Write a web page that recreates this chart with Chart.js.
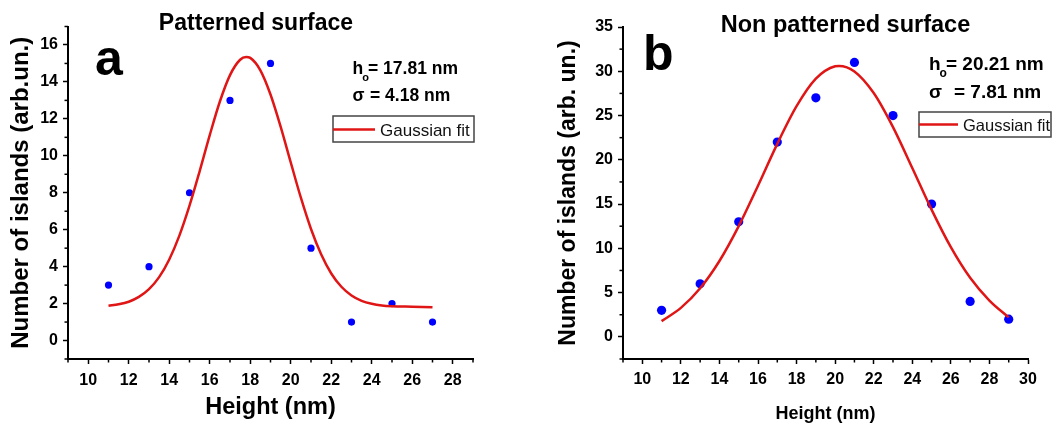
<!DOCTYPE html>
<html><head><meta charset="utf-8">
<script src="https://cdn.jsdelivr.net/npm/chart.js@4.4.1/dist/chart.umd.min.js"></script>
<style>
html,body{margin:0;padding:0;background:#fff;}
#wrap{position:relative;width:1055px;height:423px;overflow:hidden;background:#fff;}
.box{position:absolute;top:0;height:423px;}
#bl{left:0;width:527px;}
#br{left:527px;width:528px;}
</style></head><body>
<div id="wrap"><div class="box" id="bl"><canvas id="cl"></canvas></div><div class="box" id="br"><canvas id="cr"></canvas></div></div>
<script>
// ---- Panel a: patterned surface ----
const leftHeights = [11, 13, 15, 17, 19, 21, 23, 25, 27];
const leftCounts  = [3, 4, 8, 13, 15, 5, 1, 2, 1];
const leftFitX = [11, 11.5, 12, 12.5, 13, 13.5, 14, 14.5, 15, 15.5, 16, 16.5, 17, 17.5, 17.8, 18, 18.5, 19, 19.5, 20, 20.5, 21, 21.5, 22, 22.5, 23, 23.5, 24, 24.5, 25, 26, 27];
const leftFitY = [1.88, 1.96, 2.10, 2.36, 2.78, 3.43, 4.39, 5.68, 7.30, 9.16, 11.12, 12.94, 14.37, 15.20, 15.35, 15.30, 14.63, 13.32, 11.58, 9.64, 7.73, 6.04, 4.67, 3.63, 2.91, 2.44, 2.15, 1.99, 1.90, 1.86, 1.83, 1.80];
const leftXTickLabels = [10, 12, 14, 16, 18, 20, 22, 24, 26, 28];
const leftYTickLabels = [0, 2, 4, 6, 8, 10, 12, 14, 16];

// ---- Panel b: non patterned surface ----
const rightHeights = [11, 13, 15, 17, 19, 21, 23, 25, 27, 29];
const rightCounts  = [3, 6, 13, 22, 27, 31, 25, 15, 4, 2];
const rightFitX = [11, 12, 13, 14, 15, 16, 17, 18, 19, 20, 20.2, 21, 22, 23, 24, 25, 26, 27, 28, 29];
const rightFitY = [1.78, 3.27, 5.49, 8.57, 12.51, 17.07, 21.80, 26.05, 29.16, 30.56, 30.6, 29.98, 27.54, 23.69, 19.07, 14.37, 10.13, 6.67, 4.10, 2.20];
const rightXTickLabels = [10, 12, 14, 16, 18, 20, 22, 24, 26, 28, 30];
const rightYTickLabels = [0, 5, 10, 15, 20, 25, 30, 35];

const FONT = "'Liberation Sans', Arial, sans-serif";
Chart.defaults.font.family = FONT;
Chart.defaults.color = '#000';

function has(list, v){ return list.some(a => Math.abs(a - v) < 1e-6); }

const minorTicks = {
  id: 'minorTicks',
  afterDraw(chart, args, opts){
    const ctx = chart.ctx, xs = chart.scales.x, ys = chart.scales.y;
    ctx.save(); ctx.strokeStyle = '#000'; ctx.lineWidth = 1.5;
    xs.ticks.forEach((t, i) => {
      if (!has(opts.xMajor, t.value)) {
        const px = xs.getPixelForTick(i);
        ctx.beginPath(); ctx.moveTo(px, xs.top); ctx.lineTo(px, xs.top + 3.5); ctx.stroke();
      }
    });
    ys.ticks.forEach((t, i) => {
      if (!has(opts.yMajor, t.value)) {
        const py = ys.getPixelForTick(i);
        ctx.beginPath(); ctx.moveTo(ys.right, py); ctx.lineTo(ys.right - 3.5, py); ctx.stroke();
      }
    });
    ctx.restore();
  }
};

const deco = {
  id: 'deco',
  afterDraw(chart, args, o){
    const ctx = chart.ctx;
    ctx.save();
    ctx.fillStyle = '#000';
    ctx.textBaseline = 'alphabetic';
    // title
    ctx.font = `bold ${o.title.size}px ${FONT}`;
    ctx.textAlign = 'center';
    ctx.fillText(o.title.text, o.title.x, o.title.y);
    // panel letter
    ctx.textAlign = 'left';
    ctx.font = `bold ${o.letter.size}px ${FONT}`;
    ctx.fillText(o.letter.text, o.letter.x, o.letter.y);
    // h_o line
    ctx.font = `bold ${o.ann.size}px ${FONT}`;
    ctx.fillText('h', o.ann.x, o.ann.y1);
    const hw = ctx.measureText('h').width;
    ctx.font = `bold ${Math.round(o.ann.size*0.62)}px ${FONT}`;
    ctx.fillText('o', o.ann.x + hw - 1, o.ann.y1 + 7);
    ctx.font = `bold ${o.ann.size}px ${FONT}`;
    ctx.fillText('= ' + o.ann.h0, o.ann.eq1, o.ann.y1);
    // sigma line
    ctx.fillText('\u03C3', o.ann.x, o.ann.y2);
    ctx.fillText('= ' + o.ann.sigma, o.ann.eq2, o.ann.y2);
    // legend box
    const L = o.legend;
    ctx.strokeStyle = '#444'; ctx.lineWidth = 1.5;
    ctx.strokeRect(L.x0, L.y0, L.x1 - L.x0, L.y1 - L.y0);
    const ds = chart.data.datasets[0];
    ctx.strokeStyle = ds.borderColor; ctx.lineWidth = 2.5;
    ctx.beginPath(); ctx.moveTo(L.x0, L.ly); ctx.lineTo(L.lx1, L.ly); ctx.stroke();
    ctx.font = `${L.size}px ${FONT}`;
    ctx.fillStyle = '#111';
    ctx.fillText(ds.label, L.tx, L.ty);
    ctx.restore();
  }
};

function makeChart(id, c){
  const fitData = c.fitX.map((x, i) => ({x: x, y: c.fitY[i]}));
  const ptData = c.px.map((x, i) => ({x: x, y: c.py[i]}));
  return new Chart(document.getElementById(id), {
    type: 'scatter',
    data: { datasets: [
      { label: 'Gaussian fit', data: fitData, showLine: true, borderColor: '#e01515', borderWidth: 2.5,
        pointRadius: 0, fill: false, cubicInterpolationMode: 'monotone' },
      { label: 'data', data: ptData, showLine: false, pointRadius: c.r, pointHoverRadius: c.r,
        backgroundColor: '#0000ff', borderColor: '#0000ff', borderWidth: 0 }
    ]},
    options: {
      responsive: true, maintainAspectRatio: false, animation: false, devicePixelRatio: 1,
      layout: { padding: { left: 0, top: c.top, right: c.padRight, bottom: 0 } },
      plugins: { legend: { display: false }, tooltip: { enabled: false },
        minorTicks: { xMajor: c.xLabels, yMajor: c.yLabels },
        deco: c.deco },
      scales: {
        x: { type: 'linear', position: 'bottom', min: c.xmin, max: c.xmax,
          afterFit(s){ s.height = 64; },
          border: { display: true, color: '#000', width: 2 },
          grid: { drawOnChartArea: false, drawTicks: true, tickLength: 5, tickWidth: 1.5,
            tickColor: ctx => (ctx.tick && has(c.xLabels, ctx.tick.value)) ? '#000' : 'rgba(0,0,0,0)' },
          ticks: { stepSize: 1, autoSkip: false, maxRotation: 0, padding: c.xTickPad,
            font: { size: 16, weight: 'bold' }, color: '#000',
            callback: v => has(c.xLabels, v) ? String(v) : '' },
          title: { display: true, text: 'Height (nm)', color: '#000',
            font: { size: c.xTitleSize, weight: 'bold', lineHeight: 1 }, padding: { top: 0, bottom: c.xTitlePad } }
        },
        y: { type: 'linear', position: 'left', min: c.ymin, max: c.ymax,
          afterFit(s){ s.width = c.left; },
          border: { display: true, color: '#000', width: 2 },
          grid: { drawOnChartArea: false, drawTicks: true, tickLength: 5, tickWidth: 1.5,
            tickColor: ctx => (ctx.tick && has(c.yLabels, ctx.tick.value)) ? '#000' : 'rgba(0,0,0,0)' },
          ticks: { stepSize: c.ystep, autoSkip: false, padding: 5,
            font: { size: 16, weight: 'bold' }, color: '#000',
            callback: v => has(c.yLabels, v) ? String(v) : '' },
          title: { display: true, text: c.yTitle, color: '#000',
            font: { size: c.yTitleSize, weight: 'bold', lineHeight: 1.2 }, padding: { top: c.yTitlePad, bottom: 0 } }
        }
      }
    },
    plugins: [minorTicks, deco]
  });
}

makeChart('cl', {
  px: leftHeights, py: leftCounts, fitX: leftFitX, fitY: leftFitY, r: 3.6,
  xLabels: leftXTickLabels, yLabels: leftYTickLabels,
  xmin: 9, xmax: 29, ymin: -1, ymax: 17, ystep: 1,
  left: 68, top: 26.5, padRight: 54, xTickPad: 7,
  xTitleSize: 23.5, xTitlePad: 3.5,
  yTitle: 'Number of islands (arb.un.)', yTitleSize: 24, yTitlePad: 7,
  deco: {
    title: { text: 'Patterned surface', size: 23, x: 256, y: 30 },
    letter: { text: 'a', size: 50, x: 95, y: 75 },
    ann: { size: 17.5, x: 352.5, eq1: 368, eq2: 370, y1: 74, y2: 101, h0: '17.81 nm', sigma: '4.18 nm' },
    legend: { x0: 333, y0: 116, x1: 474, y1: 142, ly: 129.5, lx1: 375, tx: 380, ty: 136, size: 17 }
  }
});

makeChart('cr', {
  px: rightHeights, py: rightCounts, fitX: rightFitX, fitY: rightFitY, r: 4.6,
  xLabels: rightXTickLabels, yLabels: rightYTickLabels,
  xmin: 9, xmax: 30, ymin: -2.5, ymax: 35, ystep: 2.5,
  left: 96, top: 27, padRight: 27, xTickPad: 6,
  xTitleSize: 18, xTitlePad: 0,
  yTitle: 'Number of islands (arb. un.)', yTitleSize: 23, yTitlePad: 27.5,
  deco: {
    title: { text: 'Non patterned surface', size: 23.5, x: 318.5, y: 32 },
    letter: { text: 'b', size: 50, x: 116, y: 70 },
    ann: { size: 19, x: 402, eq1: 419, eq2: 427, y1: 69.5, y2: 98, h0: '20.21 nm', sigma: '7.81 nm' },
    legend: { x0: 392, y0: 112, x1: 524, y1: 137, ly: 124.5, lx1: 431, tx: 436, ty: 130.5, size: 16.5 }
  }
});
</script>
</body></html>
